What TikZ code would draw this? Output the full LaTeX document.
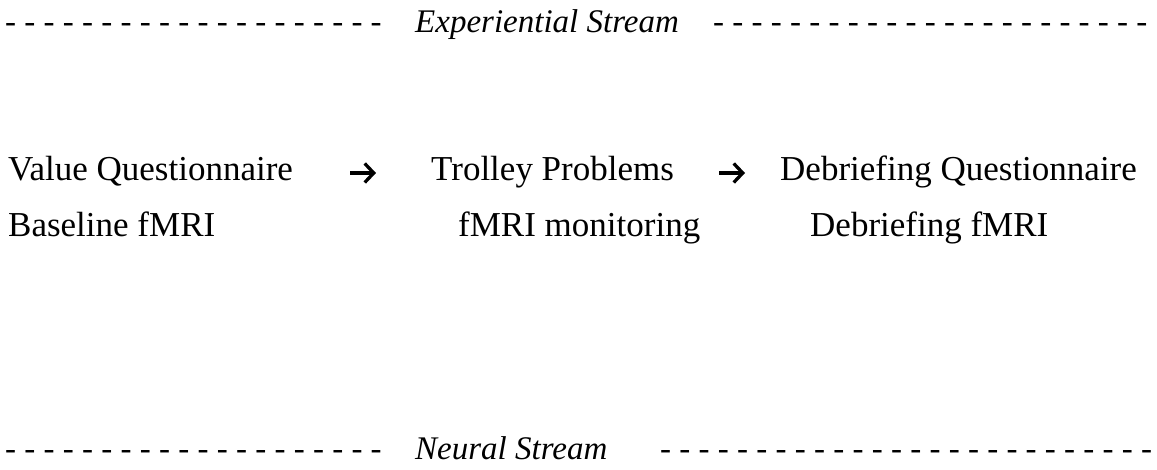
\documentclass[tikz,border=0pt]{standalone}
\usepackage{fontspec}
\setmainfont{Liberation Serif}
\usetikzlibrary{arrows.meta}
\begin{document}
\begin{tikzpicture}[x=1pt,y=1pt,
  item/.style={anchor=base west, inner sep=0pt, text height=24pt, text depth=8pt, font=\fontsize{35}{40}\selectfont},
  hdr/.style={anchor=base west, inner sep=0pt, font=\fontsize{33}{38}\selectfont\itshape},
  flow/.style={-{Straight Barb[length=9pt,width=19pt]}, line width=3.3pt}]
\useasboundingbox (0,0) rectangle (1157,470);
% header
\node[hdr] (tdl) at (5,437) {- - - - - - - - - - - - - - - - - - - -};
\node[hdr] (exp) at (415,437) {Experiential Stream};
\node[hdr] (tdr) at (713,437) {- - - - - - - - - - - - - - - - - - - - - - -};
% row 1
\node[item] (vq) at (8,289) {Value Questionnaire};
\node[item] (tp) at (431,289) {Trolley Problems};
\node[item] (dq) at (780,289) {Debriefing Questionnaire};
% row 2
\node[item] (bf) at (8,233) {Baseline fMRI};
\node[item] (fm) at (458,233) {fMRI monitoring};
\node[item] (df) at (810,233) {Debriefing fMRI};
% arrows
\draw[flow, shorten <=57pt, shorten >=55pt] (vq.east) -- (tp.west);
\draw[flow, shorten <=45pt, shorten >=35pt] (tp.east) -- (dq.west);
% footer
\node[hdr] (bdl) at (5,10) {- - - - - - - - - - - - - - - - - - - -};
\node[hdr] (neu) at (415,10) {Neural Stream};
\node[hdr] (bdr) at (660,10) {- - - - - - - - - - - - - - - - - - - - - - - - - -};
\end{tikzpicture}
\end{document}
